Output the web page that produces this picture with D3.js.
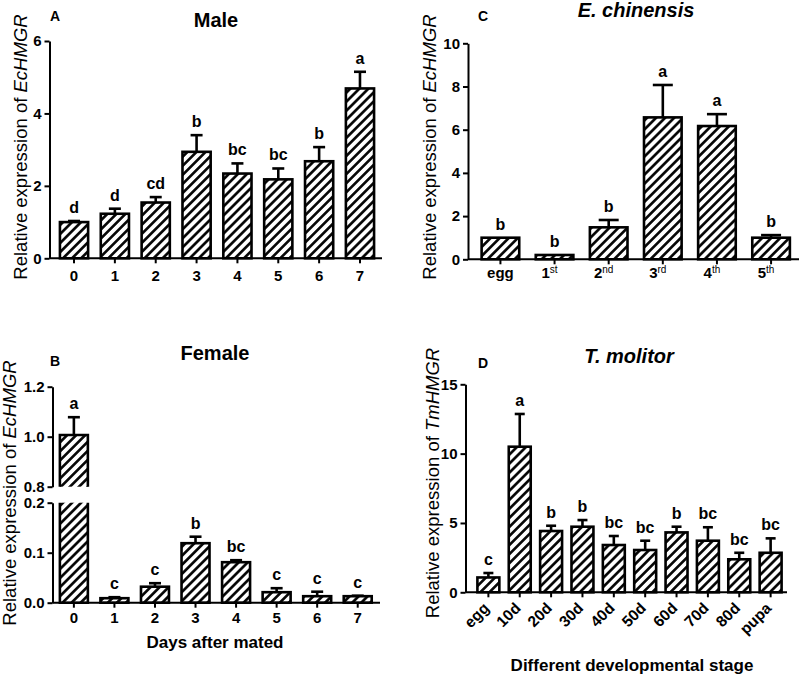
<!DOCTYPE html>
<html>
<head>
<meta charset="utf-8">
<script src="https://cdn.jsdelivr.net/npm/d3@7"></script>
<style>
  html, body { margin: 0; padding: 0; background: #fff; }
  svg { display: block; }
  text { font-family: Arial, "Liberation Sans", sans-serif; fill: #000; }
  .tick text { font-weight: bold; font-size: 15px; }
</style>
</head>
<body>
<svg id="chart" width="800" height="675"></svg>
<script>
// ---------------- DATA ----------------
const maleDays = ["0", "1", "2", "3", "4", "5", "6", "7"];
const maleMean = [1.0, 1.23, 1.54, 2.94, 2.34, 2.18, 2.68, 4.69];
const maleErr = [0.03, 0.14, 0.15, 0.46, 0.28, 0.30, 0.39, 0.46];
const maleLetters = ["d", "d", "cd", "b", "bc", "bc", "b", "a"];
const maleTicks = [0, 2, 4, 6];

const femaleDays = ["0", "1", "2", "3", "4", "5", "6", "7"];
const femaleMean = [1.007, 0.009, 0.032, 0.119, 0.081, 0.021, 0.013, 0.013];
const femaleErr = [0.071, 0.002, 0.007, 0.013, 0.004, 0.008, 0.009, 0.001];
const femaleLetters = ["a", "c", "c", "b", "bc", "c", "c", "c"];
const femaleTicksUpper = [0.8, 1.0, 1.2];
const femaleTicksLower = [0.0, 0.1, 0.2];

const chinStages = ["egg", "1", "2", "3", "4", "5"];
const chinSup = ["", "st", "nd", "rd", "th", "th"];
const chinMean = [1.0, 0.2, 1.48, 6.57, 6.17, 1.0];
const chinErr = [0.0, 0.0, 0.34, 1.5, 0.55, 0.12];
const chinLetters = ["b", "b", "b", "a", "a", "b"];
const chinTicks = [0, 2, 4, 6, 8, 10];

const molStages = ["egg", "10d", "20d", "30d", "40d", "50d", "60d", "70d", "80d", "pupa"];
const molMean = [1.07, 10.5, 4.42, 4.73, 3.41, 3.05, 4.32, 3.72, 2.38, 2.85];
const molErr = [0.32, 2.36, 0.38, 0.48, 0.65, 0.67, 0.41, 0.97, 0.47, 1.04];
const molLetters = ["c", "a", "b", "b", "bc", "bc", "b", "bc", "bc", "bc"];
const molTicks = [0, 5, 10, 15];

// ---------------- SETUP ----------------
const svg = d3.select("#chart");
const defs = svg.append("defs");
const HP = 6.4;
const pat = defs.append("pattern")
  .attr("id", "hatch")
  .attr("patternUnits", "userSpaceOnUse")
  .attr("width", HP).attr("height", HP)
  .attr("patternTransform", "rotate(45)");
pat.append("rect").attr("width", HP).attr("height", HP).attr("fill", "#fff");
pat.append("line").attr("x1", HP / 2).attr("y1", -1).attr("x2", HP / 2).attr("y2", HP + 1)
  .attr("stroke", "#000").attr("stroke-width", 2.6);

const BAR_SW = 2.6, AX_SW = 2;

function styleAxis(g, fs) {
  g.attr("font-size", fs).attr("font-family", null);
  g.selectAll("path.domain").attr("stroke", "#000").attr("stroke-width", AX_SW);
  g.selectAll(".tick line").attr("stroke", "#000").attr("stroke-width", AX_SW);
  g.selectAll(".tick text")
    .style("font-size", fs + "px").style("font-weight", "bold")
    .style("font-family", "Arial, 'Liberation Sans', sans-serif")
    .attr("fill", "#000");
}

function yAxis(g, y, ticks, xPos, fmt) {
  const a = d3.axisLeft(y).tickValues(ticks).tickSize(5).tickSizeOuter(0).tickPadding(3)
    .tickFormat(fmt || d3.format("d"));
  const ag = g.append("g").attr("transform", `translate(${xPos},0)`).call(a);
  styleAxis(ag, 15);
  return ag;
}

function xAxisLine(g, x, y0, xStart, xEnd, cats, pad, showText) {
  g.append("line").attr("x1", xStart).attr("x2", xEnd).attr("y1", y0).attr("y2", y0)
    .attr("stroke", "#000").attr("stroke-width", AX_SW);
  g.selectAll(null).data(cats).enter().append("line")
    .attr("x1", d => x(d) + x.bandwidth() / 2).attr("x2", d => x(d) + x.bandwidth() / 2)
    .attr("y1", y0).attr("y2", y0 + 5)
    .attr("stroke", "#000").attr("stroke-width", AX_SW);
  if (showText) {
    g.selectAll(null).data(cats).enter().append("text")
      .attr("x", d => x(d) + x.bandwidth() / 2)
      .attr("y", y0 + 5 + pad)
      .attr("dy", "0.71em")
      .attr("text-anchor", "middle")
      .attr("font-size", 15).attr("font-weight", "bold")
      .text(d => d);
  }
}

function drawBars(g, cats, means, errs, letters, x, y, capHalf) {
  const data = cats.map((c, i) => ({ c, m: means[i], e: errs[i], l: letters[i] }));
  const cx = d => x(d.c) + x.bandwidth() / 2;
  data.filter(d => d.e > 0).forEach(d => {
    g.append("line").attr("x1", cx(d)).attr("x2", cx(d))
      .attr("y1", y(d.m)).attr("y2", y(d.m + d.e))
      .attr("stroke", "#000").attr("stroke-width", BAR_SW);
    g.append("line").attr("x1", cx(d) - capHalf).attr("x2", cx(d) + capHalf)
      .attr("y1", y(d.m + d.e)).attr("y2", y(d.m + d.e))
      .attr("stroke", "#000").attr("stroke-width", BAR_SW);
  });
  g.selectAll(null).data(data).enter().append("rect")
    .attr("x", d => x(d.c)).attr("width", x.bandwidth())
    .attr("y", d => y(d.m)).attr("height", d => y(0) - y(d.m))
    .attr("fill", "url(#hatch)").attr("stroke", "#000").attr("stroke-width", BAR_SW);
  g.selectAll(null).data(data).enter().append("text")
    .attr("x", cx).attr("y", d => y(d.m + d.e) - 8)
    .attr("text-anchor", "middle").attr("font-size", 16).attr("font-weight", "bold")
    .text(d => d.l);
}

function yLabel(g, cx, cy, gene) {
  const t = g.append("text")
    .attr("transform", `translate(${cx},${cy}) rotate(-90)`)
    .attr("text-anchor", "middle").attr("dominant-baseline", "central")
    .attr("font-size", 18.5);
  t.append("tspan").text("Relative expression of ");
  t.append("tspan").attr("font-style", "italic").text(gene);
}

function title(g, cx, by, txt, italic) {
  g.append("text").attr("x", cx).attr("y", by).attr("text-anchor", "middle")
    .attr("font-size", 20).attr("font-weight", "bold")
    .attr("font-style", italic ? "italic" : "normal").text(txt);
}
function letter(g, x, y, txt) {
  g.append("text").attr("x", x).attr("y", y).attr("font-size", 14)
    .attr("font-weight", "bold").text(txt);
}

// ---------------- PANEL A (Male) ----------------
{
  const g = svg.append("g");
  const x = d3.scaleBand().domain(maleDays).range([53.6, 380.4]).paddingInner(0.31).paddingOuter(0.155);
  const y = d3.scaleLinear().domain([0, 6]).range([258.3, 41]);
  drawBars(g, maleDays, maleMean, maleErr, maleLetters, x, y, 6);
  yAxis(g, y, maleTicks, 49.5);
  xAxisLine(g, x, y(0), 49.5, 382, maleDays, 7, true);
  yLabel(g, 20, 147, "EcHMGR");
  title(g, 216, 27, "Male", false);
  letter(g, 50, 21, "A");
}

// ---------------- PANEL B (Female, broken axis) ----------------
{
  const g = svg.append("g");
  const x = d3.scaleBand().domain(femaleDays).range([53.6, 378]).paddingInner(0.31).paddingOuter(0.155);
  const yU = d3.scaleLinear().domain([0.8, 1.2]).range([486.7, 386.7]);
  const yL = d3.scaleLinear().domain([0, 0.2]).range([602.7, 502.7]);
  const data = femaleDays.map((c, i) => ({ c, m: femaleMean[i], e: femaleErr[i], l: femaleLetters[i] }));
  const cx = d => x(d.c) + x.bandwidth() / 2;
  const bw = x.bandwidth();
  data.forEach(d => {
    const broken = d.m > 0.2;
    const top = d.m + d.e;
    const ys = v => (v > 0.2 ? yU(v) : yL(v));
    if (d.e > 0) {
      g.append("line").attr("x1", cx(d)).attr("x2", cx(d)).attr("y1", ys(d.m)).attr("y2", ys(top))
        .attr("stroke", "#000").attr("stroke-width", BAR_SW);
      g.append("line").attr("x1", cx(d) - 6).attr("x2", cx(d) + 6).attr("y1", ys(top)).attr("y2", ys(top))
        .attr("stroke", "#000").attr("stroke-width", BAR_SW);
    }
    if (!broken) {
      g.append("rect").attr("x", x(d.c)).attr("width", bw).attr("y", yL(d.m))
        .attr("height", yL(0) - yL(d.m)).attr("fill", "url(#hatch)")
        .attr("stroke", "#000").attr("stroke-width", BAR_SW);
    } else {
      g.append("rect").attr("x", x(d.c)).attr("width", bw).attr("y", yL(0.2))
        .attr("height", yL(0) - yL(0.2)).attr("fill", "url(#hatch)");
      g.append("path").attr("d", `M${x(d.c)},${yL(0.2)}V${yL(0)}H${x(d.c) + bw}V${yL(0.2)}`)
        .attr("fill", "none").attr("stroke", "#000").attr("stroke-width", BAR_SW);
      g.append("rect").attr("x", x(d.c)).attr("width", bw).attr("y", yU(d.m))
        .attr("height", yU(0.8) - yU(d.m)).attr("fill", "url(#hatch)");
      g.append("path").attr("d", `M${x(d.c)},${yU(0.8)}V${yU(d.m)}H${x(d.c) + bw}V${yU(0.8)}`)
        .attr("fill", "none").attr("stroke", "#000").attr("stroke-width", BAR_SW);
    }
    g.append("text").attr("x", cx(d)).attr("y", ys(top) - 8)
      .attr("text-anchor", "middle").attr("font-size", 16).attr("font-weight", "bold").text(d.l);
  });
  yAxis(g, yU, femaleTicksUpper, 52.5, d3.format(".1f"));
  yAxis(g, yL, femaleTicksLower, 52.5, d3.format(".1f"));
  xAxisLine(g, x, yL(0), 52.5, 380, femaleDays, 5, true);
  yLabel(g, 9, 493, "EcHMGR");
  title(g, 215, 360, "Female", false);
  letter(g, 50, 366, "B");
  g.append("text").attr("x", 215).attr("y", 648).attr("text-anchor", "middle")
    .attr("font-size", 17).attr("font-weight", "bold").text("Days after mated");
}

// ---------------- PANEL C (E. chinensis) ----------------
{
  const g = svg.append("g");
  const x = d3.scaleBand().domain(chinStages).range([473.5, 798]).paddingInner(0.305).paddingOuter(0.15);
  const y = d3.scaleLinear().domain([0, 10]).range([259.3, 43.3]);
  drawBars(g, chinStages, chinMean, chinErr, chinLetters, x, y, 10);
  yAxis(g, y, chinTicks, 468);
  xAxisLine(g, x, y(0), 468, 799, chinStages, 3, false);
  chinStages.forEach((c, i) => {
    const t = g.append("text").attr("x", x(c) + x.bandwidth() / 2 - (chinSup[i] ? 5 : 0))
      .attr("y", y(0) + 8).attr("dy", "0.71em").attr("text-anchor", "middle")
      .attr("font-size", 15).attr("font-weight", "bold");
    t.append("tspan").text(c);
    if (chinSup[i]) {
      t.append("tspan").attr("font-size", 10).attr("font-weight", "normal")
        .attr("dy", "-0.5em").text(chinSup[i]);
    }
  });
  yLabel(g, 429, 147, "EcHMGR");
  title(g, 636, 17, "E. chinensis", true);
  letter(g, 478, 21, "C");
}

// ---------------- PANEL D (T. molitor) ----------------
{
  const g = svg.append("g");
  const x = d3.scaleBand().domain(molStages).range([472.7, 786.3]).paddingInner(0.3).paddingOuter(0.15);
  const y = d3.scaleLinear().domain([0, 15]).range([592.3, 384.3]);
  drawBars(g, molStages, molMean, molErr, molLetters, x, y, 5);
  yAxis(g, y, molTicks, 465.5);
  xAxisLine(g, x, y(0), 465.5, 787, molStages, 3, false);
  g.selectAll(null).data(molStages).enter().append("text")
    .attr("transform", d => `translate(${x(d) + x.bandwidth() / 2 - 2},${y(0) + 13}) rotate(-45)`)
    .attr("text-anchor", "end").attr("font-size", 15.5).attr("font-weight", "bold")
    .attr("dy", "0.35em").text(d => d);
  yLabel(g, 432, 483, "TmHMGR");
  title(g, 629, 363, "T. molitor", true);
  letter(g, 478, 368, "D");
  g.append("text").attr("x", 632).attr("y", 671).attr("text-anchor", "middle")
    .attr("font-size", 17).attr("font-weight", "bold").text("Different developmental stage");
}
</script>
</body>
</html>
